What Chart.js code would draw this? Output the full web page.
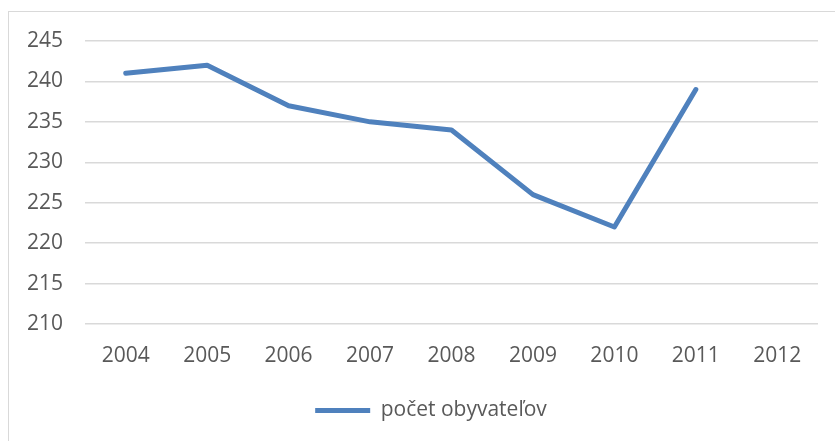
<!DOCTYPE html>
<html><head><meta charset="utf-8">
<script src="https://cdn.jsdelivr.net/npm/chart.js@4/dist/chart.umd.min.js"></script>
<style>
html,body{margin:0;padding:0;background:#fff;width:835px;height:441px;overflow:hidden;}
#frame{position:absolute;left:8px;top:11px;width:1000px;height:1000px;border:1px solid #d9d9d9;box-sizing:border-box;}
#wrap{position:absolute;left:0;top:0;width:835px;height:441px;}
</style></head>
<body>
<div id="frame"></div>
<div id="wrap"><canvas id="c" width="835" height="441"></canvas></div>
<script>
const years = ['2004','2005','2006','2007','2008','2009','2010','2011','2012'];
const population = [241, 242, 237, 235, 234, 226, 222, 239, null];
const seriesName = 'počet obyvateľov';
const yMin = 210, yMax = 245, yStep = 5;

const blue = '#4f81bd';
const txt = '#595959';
const fontFam = '"Open Sans", "Noto Sans", sans-serif';

const shiftLegend = {
  id: 'shiftLegend',
  afterLayout(chart) {
    const lg = chart.legend;
    if (lg) { lg.left += 22; lg.right += 22; }
  }
};

new Chart(document.getElementById('c'), {
  type: 'line',
  data: {
    labels: years,
    datasets: [{
      label: seriesName,
      data: population,
      borderColor: blue,
      backgroundColor: blue,
      borderWidth: 5,
      borderCapStyle: 'round',
      borderJoinStyle: 'round',
      pointRadius: 0,
      pointHoverRadius: 0,
      pointStyle: 'line',
      tension: 0,
      spanGaps: false
    }]
  },
  plugins: [shiftLegend],
  options: {
    responsive: false,
    animation: false,
    devicePixelRatio: 1,
    layout: { padding: { top: 41, right: 17, left: 0, bottom: 10 } },
    scales: {
      x: {
        offset: true,
        grid: { display: false, drawTicks: false },
        border: { display: false },
        ticks: { color: txt, font: { family: fontFam, size: 21 }, padding: 19, maxRotation: 0 },
        afterFit: (s) => { s.height = 66; }
      },
      y: {
        min: yMin, max: yMax,
        grid: { color: '#d9d9d9', lineWidth: 1.5, drawTicks: false },
        border: { display: false },
        ticks: { stepSize: yStep, color: txt, font: { family: fontFam, size: 21 }, padding: 22 },
        afterFit: (s) => { s.width = 85; }
      }
    },
    plugins: {
      legend: {
        position: 'bottom',
        labels: {
          color: txt,
          font: { family: fontFam, size: 21 },
          usePointStyle: true,
          pointStyle: 'line',
          pointStyleWidth: 55,
          boxHeight: 5,
          padding: 10
        }
      },
      tooltip: { enabled: false }
    }
  }
});
</script>
</body></html>
